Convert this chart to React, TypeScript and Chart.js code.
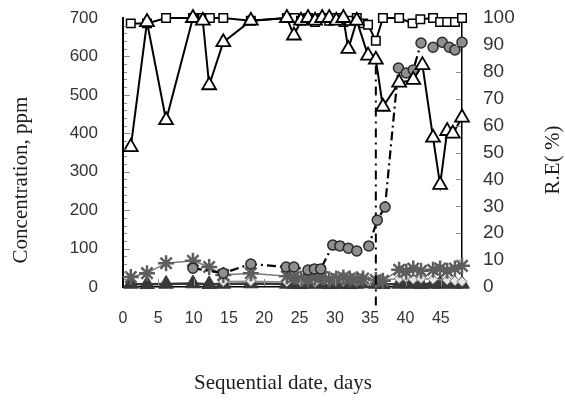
import React, { useEffect, useRef } from "react";
import { Chart, registerables } from "chart.js";

Chart.register(...registerables);

// ---- data ----
// R.E. (%) series – open squares
const sqDays = [1.1, 3.4, 6.1, 9.9, 11.3, 12.3, 14.2, 18.1, 23.2, 24.3, 25.2, 26.2, 27.2, 28.2, 29.2, 30.2, 31.2, 32.1, 33.1, 34.0, 34.7, 35.8, 36.8, 39.1, 41.0, 42.1, 43.9, 44.9, 45.9, 47.0, 48];
const sqRE = [98, 98, 100, 100, 100, 100, 100, 99, 100, 100, 99, 100, 98.5, 100, 99, 100, 98.5, 99, 100, 98, 97.5, 91.5, 100, 100, 98, 99.5, 100, 98.5, 98.5, 98.5, 100];

// R.E. (%) series – open triangles
const triDays = [1.1, 3.4, 6.1, 9.9, 11.3, 12.2, 14.2, 18.1, 23.2, 24.2, 25.2, 26.2, 27.2, 28.2, 29.2, 30.2, 31.2, 31.9, 33.1, 34.7, 35.8, 36.8, 39.1, 41.1, 42.4, 43.9, 44.9, 45.9, 46.7, 48];
const triRE = [52, 98.5, 62, 100, 99, 75, 91, 99, 100, 93.5, 99, 100, 99, 100, 100, 99, 100, 88.5, 99, 86, 84.5, 67, 76, 77, 82.5, 55.5, 38, 58, 57, 63];

// Concentration (ppm) – grey circles, dash-dot line
const circDays = [9.9, 14.2, 18.1, 23.1, 24.2, 26.2, 27.1, 28.0, 29.7, 30.7, 31.9, 33.1, 34.8, 36.0, 37.1, 39.0, 40.1, 41.1, 42.2, 43.9, 45.2, 46.2, 47.0, 48.0];
const circConc = [49, 36, 60, 52, 52, 44, 47, 47, 109, 107, 101, 94, 107, 174, 208, 570, 557, 565, 635, 624, 637, 624, 617, 637];

// Vertical dash-dot marker
const markerDays = [35.8, 35.8];
const markerConc = [-48, 592];

// Concentration (ppm) – grey asterisks
const starDays = [1.1, 3.4, 6.1, 9.9, 12.2, 14.2, 18.1, 23.2, 24.2, 25.2, 26.2, 27.2, 28.2, 29.2, 30.2, 31.2, 32.1, 33.1, 34.0, 35.8, 36.8, 39.1, 40.1, 41.1, 42.2, 43.9, 44.9, 45.9, 47.0, 48];
const starConc = [26, 36, 62, 68, 52, 31, 36, 28, 26, 22, 20, 24, 26, 20, 22, 25, 22, 20, 22, 18, 16, 45, 40, 48, 42, 45, 48, 42, 48, 55];

// Concentration (ppm) – light diamonds
const diaDays = [14.2, 18.1, 23.2, 25.2, 27.2, 29.2, 31.2, 33.1, 34.7, 36.8, 39.1, 40.1, 41.1, 42.2, 43.9, 45.9, 47.0, 48];
const diaConc = [14, 15, 13, 14, 12, 15, 14, 13, 15, 18, 22, 24, 20, 22, 20, 18, 16, 14];

// Concentration (ppm) – dark filled triangles
const ftDays = [1.1, 3.4, 6.1, 9.9, 12.2, 14.2, 18.1, 23.2, 24.2, 25.2, 26.2, 27.2, 28.2, 29.2, 30.2, 31.2, 32.1, 33.1, 34.0, 35.8, 36.8, 39.1, 40.1, 41.1, 42.2, 43.9, 44.9, 45.9, 47.0, 48];
const ftConc = [8, 7, 8, 9, 7, 8, 9, 8, 8, 7, 8, 9, 8, 7, 8, 8, 7, 8, 9, 8, 7, 8, 9, 8, 7, 8, 8, 9, 8, 8];

// Concentration (ppm) – small dark dots
const dotDays = [39.1, 40.1, 41.1, 42.2, 43.9, 44.9, 45.9, 47.0, 48];
const dotConc = [9, 10, 8, 10, 9, 11, 9, 10, 8];

const xTickStep = 5;
const concMax = 700;
const reMax = 100;

const pts = (xs: number[], ys: number[]) => xs.map((x, i) => ({ x, y: ys[i] }));

const decor = {
  id: "decor",
  afterDraw(chart: any) {
    const { ctx, chartArea: a, scales } = chart;
    ctx.save();
    ctx.strokeStyle = "#8c8c8c";
    ctx.lineWidth = 1;
    const yL = scales.y;
    for (let v = 20; v < concMax; v += 20) {
      const py = Math.round(yL.getPixelForValue(v)) + 0.5;
      const len = v % 100 === 0 ? 6 : 3;
      ctx.beginPath();
      ctx.moveTo(a.left + 1, py);
      ctx.lineTo(a.left + 1 + len, py);
      ctx.stroke();
    }
    const yR = scales.y1;
    for (let v = 10; v < reMax; v += 10) {
      const py = Math.round(yR.getPixelForValue(v)) + 0.5;
      ctx.beginPath();
      ctx.moveTo(a.right - 1, py);
      ctx.lineTo(a.right - 6, py);
      ctx.stroke();
    }
    const xs = scales.x;
    for (let v = 5; v < 48; v += 5) {
      const px = Math.round(xs.getPixelForValue(v)) + 0.5;
      ctx.beginPath();
      ctx.moveTo(px, a.bottom - 1);
      ctx.lineTo(px, a.bottom - 8);
      ctx.stroke();
    }
    ctx.fillStyle = "#1e1e1e";
    ctx.font = '21px "Liberation Serif", "Times New Roman", serif';
    ctx.textAlign = "center";
    ctx.textBaseline = "middle";
    ctx.fillText("Sequential date, days", 283, 383);
    ctx.save();
    ctx.translate(21, 180);
    ctx.rotate(-Math.PI / 2);
    ctx.fillText("Concentration, ppm", 0, 0);
    ctx.restore();
    ctx.save();
    ctx.translate(553, 160);
    ctx.rotate(-Math.PI / 2);
    ctx.fillText("R.E( %)", 0, 0);
    ctx.restore();
    ctx.restore();
  },
};

const noPadV = (s: any, w: number) => {
  s.width = w;
  s.paddingTop = 0;
  s.paddingBottom = 0;
};

export default function App() {
  const ref = useRef<HTMLCanvasElement>(null);
  useEffect(() => {
    if (!ref.current) return;
    const chart = new Chart(ref.current, {
      type: "scatter",
      data: {
        datasets: [
          {
            label: "R.E. triangles",
            yAxisID: "y1",
            data: pts(triDays, triRE),
            showLine: true,
            borderColor: "#000",
            borderWidth: 2,
            pointStyle: "triangle",
            pointRadius: 8,
            pointBackgroundColor: "#fff",
            pointBorderColor: "#000",
            pointBorderWidth: 1.8,
            clip: false,
          },
          {
            label: "R.E. squares",
            yAxisID: "y1",
            data: pts(sqDays, sqRE),
            showLine: true,
            borderColor: "#000",
            borderWidth: 2,
            pointStyle: "rect",
            pointRadius: 6,
            pointBackgroundColor: "#fff",
            pointBorderColor: "#000",
            pointBorderWidth: 1.5,
            clip: false,
          },
          {
            label: "circles",
            yAxisID: "y",
            data: pts(circDays, circConc),
            showLine: true,
            borderColor: "#000",
            borderWidth: 2.2,
            borderDash: [9, 4, 2, 4],
            pointStyle: "circle",
            pointRadius: 5,
            pointBackgroundColor: "#8f8f8f",
            pointBorderColor: "#2a2a2a",
            pointBorderWidth: 1.5,
            clip: false,
          },
          {
            label: "marker",
            yAxisID: "y",
            data: pts(markerDays, markerConc),
            showLine: true,
            borderColor: "#000",
            borderWidth: 2,
            borderDash: [9, 5, 2, 5],
            pointRadius: 0,
            clip: false,
          },
          {
            label: "stars",
            yAxisID: "y",
            data: pts(starDays, starConc),
            showLine: true,
            borderColor: "#7a7a7a",
            borderWidth: 1.5,
            pointStyle: "star",
            pointRadius: 8,
            pointBorderColor: "#5e5e5e",
            pointBorderWidth: 2.5,
            clip: false,
          },
          {
            label: "diamonds",
            yAxisID: "y",
            data: pts(diaDays, diaConc),
            showLine: true,
            borderColor: "#8a8a8a",
            borderWidth: 1.5,
            pointStyle: "rectRot",
            pointRadius: 5,
            pointBackgroundColor: "#e6e6e6",
            pointBorderColor: "#6a6a6a",
            pointBorderWidth: 1,
            clip: false,
          },
          {
            label: "filled triangles",
            yAxisID: "y",
            data: pts(ftDays, ftConc),
            showLine: true,
            borderColor: "#333",
            borderWidth: 2.5,
            pointStyle: "triangle",
            pointRadius: 8.5,
            pointBackgroundColor: "#383838",
            pointBorderColor: "#383838",
            pointBorderWidth: 1,
            clip: false,
          },
          {
            label: "dots",
            yAxisID: "y",
            data: pts(dotDays, dotConc),
            showLine: true,
            borderColor: "#2a2a2a",
            borderWidth: 1.5,
            borderDash: [4, 3],
            pointStyle: "circle",
            pointRadius: 2.5,
            pointBackgroundColor: "#333",
            pointBorderColor: "#333",
            clip: false,
          },
        ],
      },
      options: {
        animation: false,
        responsive: false,
        devicePixelRatio: 1,
        layout: { padding: { top: 18, left: 0, right: 0, bottom: 0 } },
        plugins: { legend: { display: false }, tooltip: { enabled: false } },
        scales: {
          x: {
            type: "linear",
            position: "bottom",
            min: 0,
            max: 48,
            grid: { display: false, drawTicks: false },
            border: { display: true, color: "#000", width: 1.5 },
            ticks: {
              stepSize: xTickStep,
              includeBounds: false,
              padding: 22,
              color: "#333",
              font: { family: '"Liberation Sans", Arial, sans-serif', size: 16 },
              callback: (v: any) => (Number(v) % xTickStep === 0 ? String(v) : ""),
              maxRotation: 0,
              autoSkip: false,
            },
            afterFit: (s: any) => {
              s.height = 116;
              s.paddingLeft = 0;
              s.paddingRight = 0;
            },
          },
          y: {
            type: "linear",
            position: "left",
            min: 0,
            max: concMax,
            grid: { display: false, drawTicks: false },
            border: { display: true, color: "#000", width: 2 },
            ticks: {
              stepSize: 100,
              padding: 25,
              autoSkip: false,
              color: "#333",
              font: { family: '"Liberation Sans", Arial, sans-serif', size: 17 },
            },
            afterFit: (s: any) => noPadV(s, 123),
          },
          y1: {
            type: "linear",
            position: "right",
            min: 0,
            max: reMax,
            grid: { display: false, drawTicks: false },
            border: { display: true, color: "#000", width: 1.5 },
            ticks: {
              stepSize: 10,
              padding: 21,
              autoSkip: false,
              color: "#333",
              font: { family: '"Liberation Sans", Arial, sans-serif', size: 19 },
            },
            afterFit: (s: any) => noPadV(s, 103),
          },
        },
      },
      plugins: [decor],
    });
    return () => chart.destroy();
  }, []);
  return (
    <div style={{ position: "fixed", left: 0, top: 0, width: 565, height: 403, background: "#fff" }}>
      <canvas ref={ref} width={565} height={403} style={{ width: 565, height: 403 }} />
    </div>
  );
}
